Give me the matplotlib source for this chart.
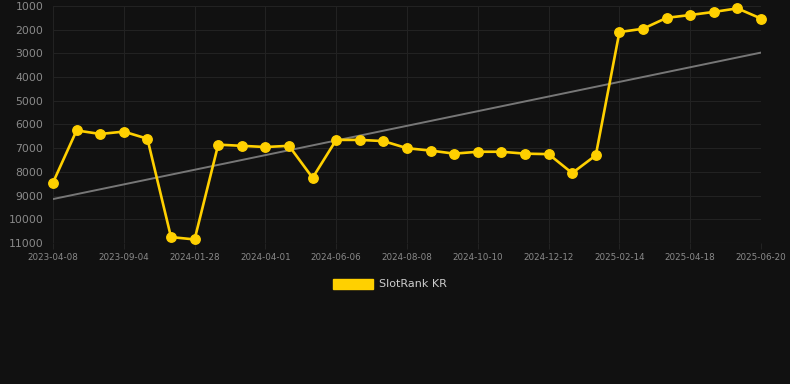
import numpy as np
import matplotlib.pyplot as plt
from matplotlib.patches import Patch

# tick labels (every 3rd point)
tick_labels = ["2023-04-08", "2023-09-04", "2024-01-28", "2024-04-01", "2024-06-06",
               "2024-08-08", "2024-10-10", "2024-12-12", "2025-02-14", "2025-04-18",
               "2025-06-20"]

# rank per point (lower is better, axis is reversed)
ranks = [8450, 6250, 6400, 6300, 6600, 10750, 10850, 6850, 6900, 6950,
         6900, 8250, 6650, 6650, 6700, 7000, 7100, 7230, 7150, 7150,
         7230, 7250, 8050, 7300, 2100, 1960, 1500, 1380, 1250, 1100, 1530]

x = np.arange(len(ranks))
slope, icpt = np.polyfit(x, ranks, 1)
trend = slope * x + icpt

bg = "#111111"
fig = plt.figure(figsize=(7.9, 3.84), dpi=100, facecolor=bg)
ax = fig.add_axes([53/790, 141/384, 708/790, 237/384], facecolor=bg)

ax.plot(x, trend, color="#777777", lw=1.4, zorder=2)
ax.plot(x, ranks, color="#FFD000", lw=1.9, marker="o", ms=6.8,
        zorder=3, clip_on=False)

ax.set_xlim(0, len(ranks) - 1)
ax.set_ylim(11000, 1000)
ax.set_yticks(np.arange(1000, 11001, 1000))
ax.set_xticks(x[::3])
ax.set_xticklabels(tick_labels)

ax.grid(True, color="#222222", lw=0.8)
for s in ax.spines.values():
    s.set_visible(False)
ax.axhline(11000, color="#333333", lw=0.8)
ax.tick_params(axis="y", length=0, colors="#8a8a8a", labelsize=7.8, pad=7)
ax.tick_params(axis="x", length=4, color="#222222", colors="#8a8a8a",
               labelsize=6.3, pad=3.5)

fig.legend(handles=[Patch(color="#FFD000", label="SlotRank KR")],
           loc="center", bbox_to_anchor=(0.5 - 5/790, 1 - 284/384), frameon=False,
           labelcolor="#cccccc", fontsize=8, handlelength=3.6, handleheight=1.0,
           handletextpad=0.5)

fig.savefig("out.png", dpi=100, facecolor=bg)
